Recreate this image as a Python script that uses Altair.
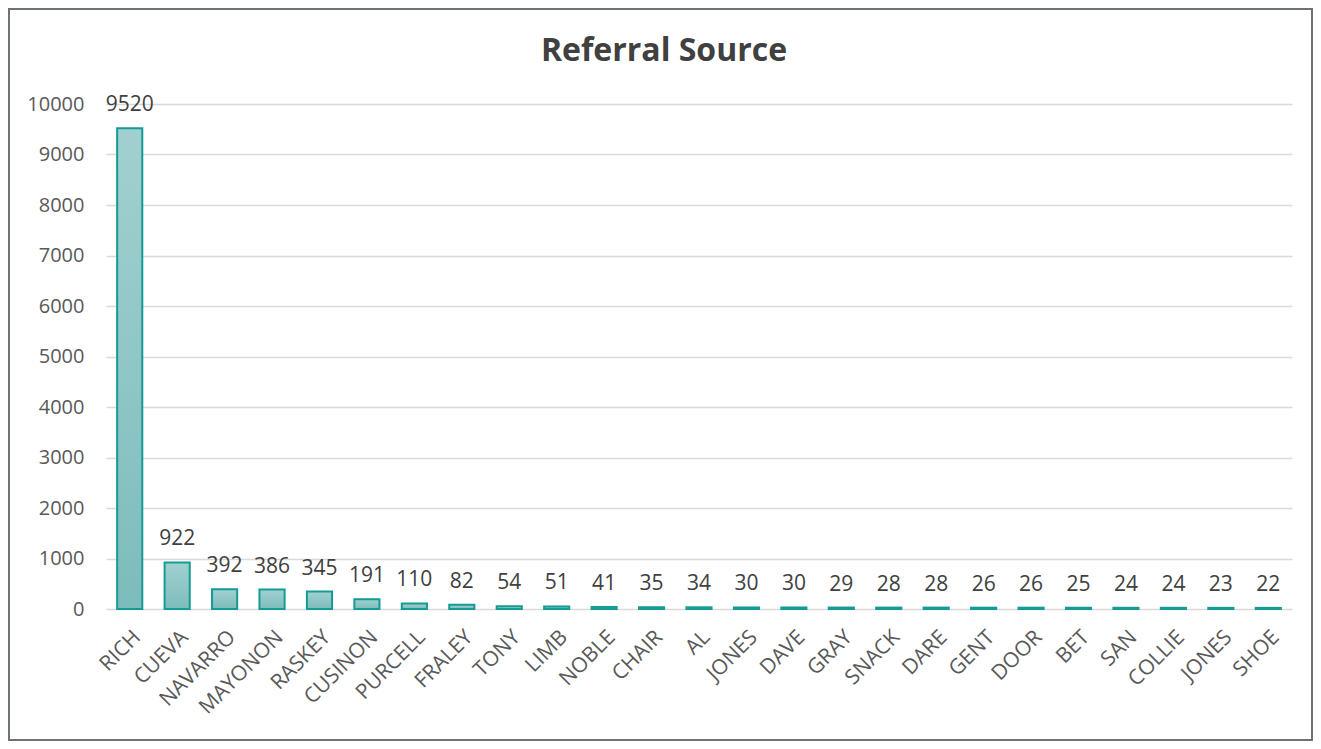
import altair as alt
import pandas as pd

names = ["RICH", "CUEVA", "NAVARRO", "MAYONON", "RASKEY", "CUSINON", "PURCELL",
         "FRALEY", "TONY", "LIMB", "NOBLE", "CHAIR", "AL", "JONES", "DAVE", "GRAY",
         "SNACK", "DARE", "GENT", "DOOR", "BET", "SAN", "COLLIE", "JONES", "SHOE"]
values = [9520, 922, 392, 386, 345, 191, 110, 82, 54, 51, 41, 35, 34, 30, 30, 29,
          28, 28, 26, 26, 25, 24, 24, 23, 22]

df = pd.DataFrame({"idx": list(range(len(names))), "name": names, "value": values})

W, H = 1186, 505
PL, PT, PR, PB = 98, 96, 21, 132

label_expr = "[" + ",".join("'" + n + "'" for n in names) + "][datum.value]"

FONT = "Open Sans"

x_enc = alt.X("idx:O", title=None,
              scale=alt.Scale(paddingInner=0.47, paddingOuter=0.235),
              axis=alt.Axis(labelExpr=label_expr, labelAngle=-45, labelFontSize=21,
                            labelColor="#595959", labelFont=FONT, ticks=False,
                            domain=False, labelPadding=17, grid=False))

bars = alt.Chart(df).mark_bar(
    color=alt.Gradient(gradient="linear",
                       stops=[alt.GradientStop(color="#a2d0d0", offset=0),
                              alt.GradientStop(color="#7dbcbc", offset=1)],
                       x1=0, x2=0, y1=0, y2=1),
    stroke="#159b96", strokeWidth=2
).encode(
    x=x_enc,
    y=alt.Y("value:Q", title=None,
            scale=alt.Scale(domain=[0, 10000], nice=False),
            axis=alt.Axis(values=list(range(0, 10001, 1000)), format="d",
                          labelFontSize=20,
                          labelColor="#595959", labelFont=FONT, ticks=False,
                          domain=False, labelPadding=22, gridColor="#d9d9d9",
                          gridWidth=1.3))
)

texts = alt.Chart(df).mark_text(
    baseline="bottom", dy=-13, fontSize=21, font=FONT, color="#404040"
).encode(
    x=alt.X("idx:O"),
    y=alt.Y("value:Q"),
    text=alt.Text("value:Q")
)

frame = alt.Chart(df).mark_rect(fillOpacity=0, stroke="#6f7378", strokeWidth=1.6).encode(
    x=alt.value(-PL + 1), x2=alt.value(W + PR - 1),
    y=alt.value(-PT + 1), y2=alt.value(H + PB - 1)
)

chart = alt.layer(bars, texts, frame).properties(
    width=W, height=H,
    padding={"left": PL, "top": PT, "right": PR, "bottom": PB},
    autosize=alt.AutoSizeParams(type="none"),
    background="white",
    title=alt.TitleParams("Referral Source", fontSize=32, font=FONT, fontWeight="bold",
                          color="#404040", anchor="middle", frame="group",
                          dx=-35, offset=-60)
).configure_view(stroke=None)

chart.save("out.html", embed_options={"renderer": "svg", "actions": False})
